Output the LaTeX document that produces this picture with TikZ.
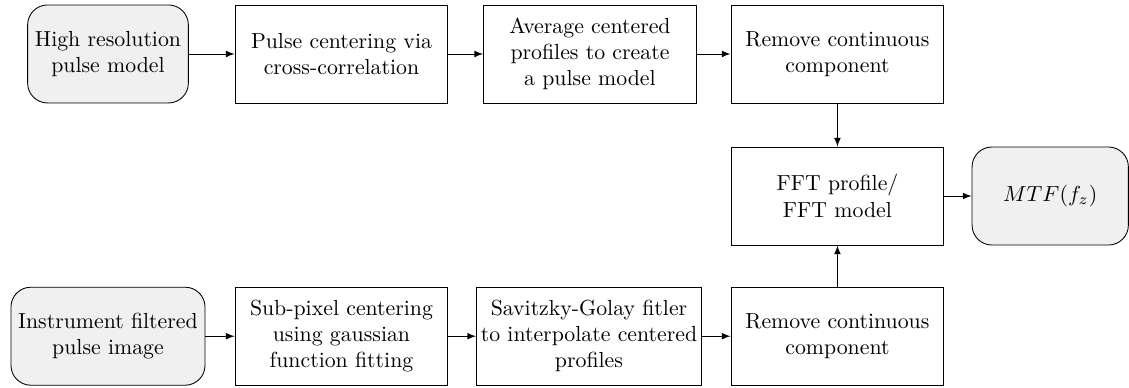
\documentclass[tikz,border=0pt]{standalone}
\usepackage{tikz}
\usetikzlibrary{arrows}

\begin{document}
\begin{tikzpicture}[
        procBox/.style={draw, rectangle, align=center, inner xsep=2pt,
            minimum width=3.43cm, minimum height=1.58cm},
        termBox/.style={draw, rectangle, rounded corners=0.32cm, fill=gray!12,
            align=center, minimum width=2.52cm, minimum height=1.58cm},
        flow/.style={-latex, line width=0.4pt}
    ]
    \useasboundingbox (0,0) rectangle (18.2,-6.24);
%
    \node[termBox] (hiRes) at (1.741,-0.870) {High resolution\\pulse model};
    \node[procBox] (pulseCenter) at (5.505,-0.870) {Pulse centering via\\cross-correlation};
    \node[procBox] (avgProfiles) at (9.511,-0.870) {Average centered\\profiles to create\\a pulse model};
    \node[procBox] (removeTop) at (13.50,-0.870) {Remove continuous\\component};
%
    \node[procBox] (fft) at (13.50,-3.160) {FFT profile/\\FFT model};
    \node[termBox] (mtf) at (16.93,-3.160) {$MTF(f_z)$};
%
    \node[termBox] (instrImage) at (1.741,-5.420) {Instrument filtered\\pulse image};
    \node[procBox] (subPixel) at (5.505,-5.420) {Sub-pixel centering\\using gaussian\\function fitting};
    \node[procBox] (savGol) at (9.495,-5.420) {Savitzky-Golay fitler\\to interpolate centered\\profiles};
    \node[procBox] (removeBottom) at (13.50,-5.420) {Remove continuous\\component};
%
    \draw[flow] (hiRes) -- (pulseCenter);
    \draw[flow] (pulseCenter) -- (avgProfiles);
    \draw[flow] (avgProfiles) -- (removeTop);
    \draw[flow] (removeTop) -- (fft);
    \draw[flow] (fft) -- (mtf);
    \draw[flow] (instrImage) -- (subPixel);
    \draw[flow] (subPixel) -- (savGol);
    \draw[flow] (savGol) -- (removeBottom);
    \draw[flow] (removeBottom) -- (fft);
\end{tikzpicture}
\end{document}
